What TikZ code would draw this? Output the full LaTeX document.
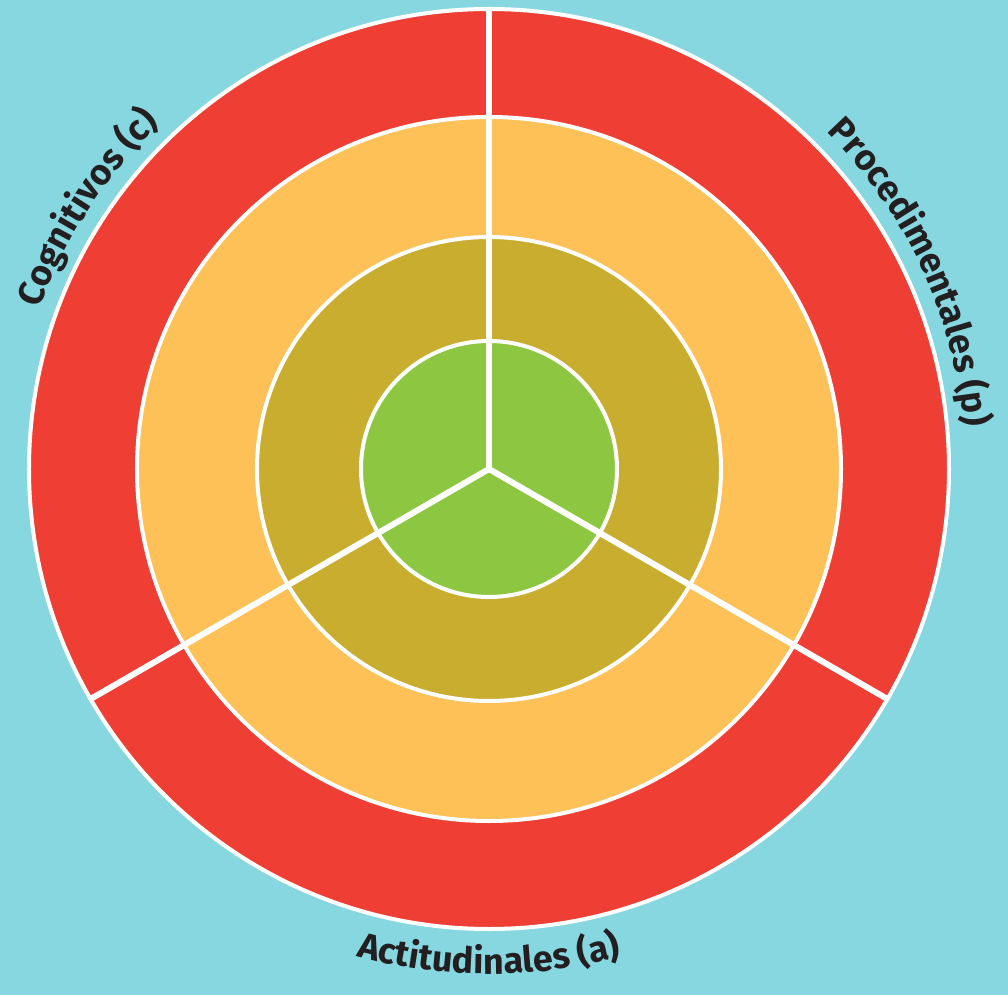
\documentclass[tikz,border=0pt]{standalone}
\usepackage{fontspec}
\setmainfont{Fira Sans}
\usetikzlibrary{decorations.text}
\definecolor{bgc}{HTML}{86D7E0}
\definecolor{ringred}{HTML}{EF3E33}
\definecolor{ringorange}{HTML}{FDC157}
\definecolor{ringolive}{HTML}{C8AD2F}
\definecolor{ringgreen}{HTML}{8DC641}
\definecolor{txt}{HTML}{231F20}
\tikzset{
  ring/.style={draw=white, line width=4pt},
  divider/.style={draw=white, line width=6pt},
  curvelabel/.style={decorate, decoration={text along path, text align=center,
    text format delimiters={|}{|}, text color=txt}}
}
\begin{document}
\begin{tikzpicture}[x=1pt,y=1pt]
\fill[bgc] (-489,-526) rectangle (519,469);
\useasboundingbox (-489,-526) rectangle (519,469);
\coordinate (c) at (0,0);
\path[ring, fill=ringred] (c) circle[radius=460];
\path[ring, fill=ringorange] (c) circle[radius=352];
\path[ring, fill=ringolive] (c) circle[radius=232];
\path[ring, fill=ringgreen] (c) circle[radius=128];
\coordinate (d1) at (90:462);
\coordinate (d2) at (-30:462);
\coordinate (d3) at (210:462);
\draw[divider] (c) -- (d1);
\draw[divider] (c) -- (d2);
\draw[divider] (c) -- (d3);
\path[curvelabel, decoration={text={|\fontsize{36}{40}\selectfont\bfseries|Cognitivos (c)}}]
  (192:477) arc[start angle=192, end angle=102, radius=477];
\path[curvelabel, decoration={text={|\fontsize{36}{40}\selectfont\bfseries|Procedimentales (p)}}]
  (72:477) arc[start angle=72, end angle=-22, radius=477];
\path[curvelabel, decoration={text={|\fontsize{36}{40}\selectfont\bfseries|Actitudinales (a)}}]
  (230:505) arc[start angle=230, end angle=310, radius=505];
\end{tikzpicture}
\end{document}
